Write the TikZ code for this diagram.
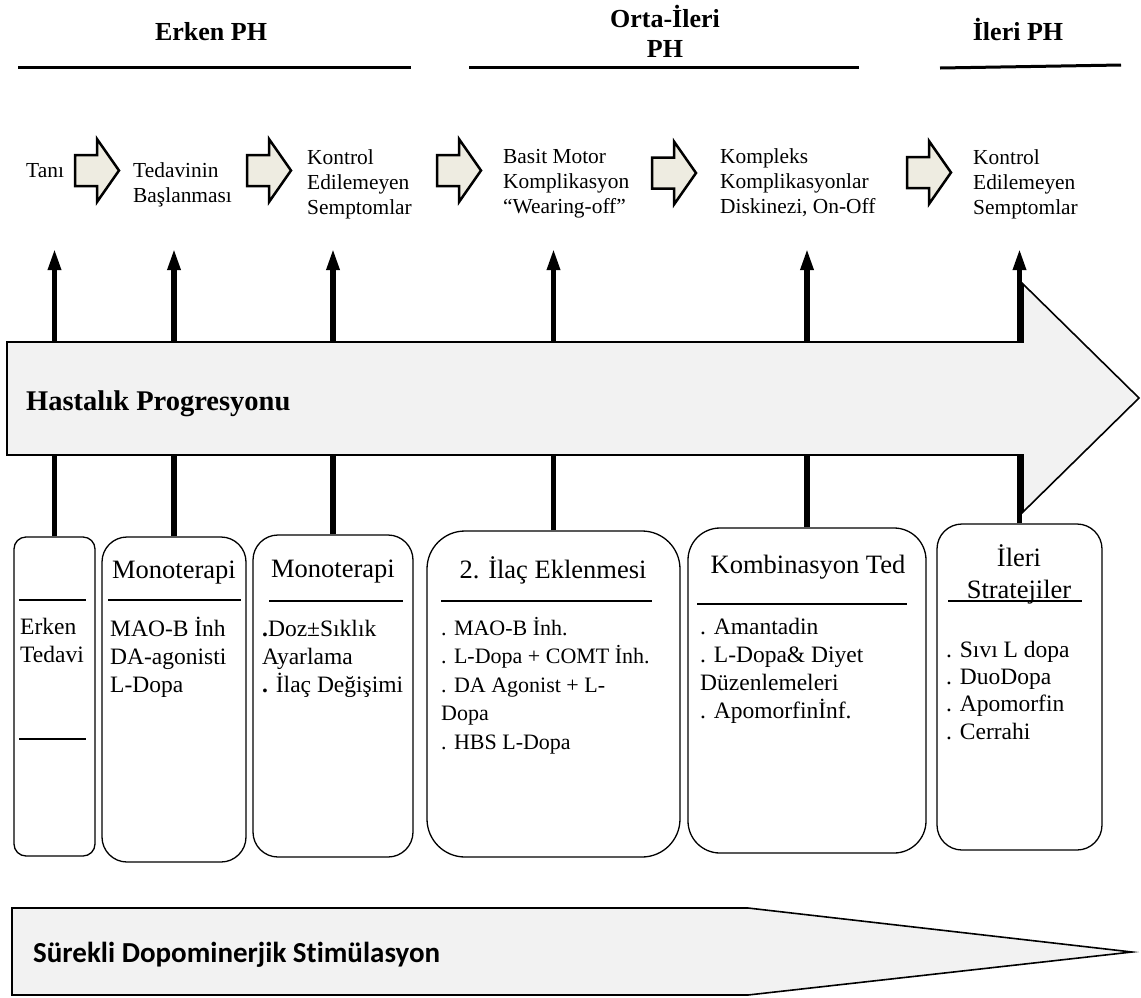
\documentclass[tikz,border=0pt]{standalone}
\usepackage{fontspec}
\setmainfont{Liberation Serif}
\newfontfamily\calibrifont{Carlito}[Ligatures=NoCommon]
\usetikzlibrary{arrows.meta}
\definecolor{chevfill}{HTML}{EEECE1}
\definecolor{bigfill}{HTML}{F2F2F2}
\tikzset{
  hdr/.style={font=\fontsize{26}{30}\selectfont\bfseries, inner sep=0},
  hdrline/.style={line width=3pt},
  chev/.style={draw=black, line width=2.5pt, fill=chevfill, line join=miter},
  chevron/.pic={\path[chev] (0,-15.5) -- (22,-15.5) -- (22,-31.5) -- (44,0) -- (22,31.5) -- (22,15.5) -- (0,15.5) -- cycle;},
  toptxt/.style={anchor=north west, align=left, inner sep=0, font=\fontsize{21.4}{25}\selectfont},
  box/.style={draw=black, line width=1.3pt, inner sep=0},
  varrow/.style={line width=5.5pt, -{Triangle[length=22pt,width=12pt]}},
  bigarrow/.style={draw=black, line width=1.6pt, fill=bigfill, line join=miter},
  title/.style={anchor=base, inner sep=0, font=\fontsize{26.5}{32}\selectfont},
  items/.style={anchor=north west, align=left, inner sep=0, font=\fontsize{23.5}{28}\selectfont},
  rule/.style={line width=2pt},
}
\begin{document}
\begin{tikzpicture}[x=1pt,y=-1pt]
\useasboundingbox (0,0) rectangle (1141,997);

% stage headers
\node[hdr, anchor=base] (h1) at (211,40.5) {Erken PH};
\node[hdr, anchor=north, align=center] (h2) at (665,5) {\strut Orta-İleri\\\strut PH};
\node[hdr, anchor=base] (h3) at (1018,40.5) {İleri PH};
\draw[hdrline] (18,67) -- (411,67);
\draw[hdrline] (469,67) -- (859,67);
\draw[hdrline] (940,68) -- (1121,65);

% top row
\node[toptxt] (s1) at (26,159.5) {\strut Tanı};
\pic at (75,170.5) {chevron};
\node[toptxt] (s2) at (133,159.5) {\strut Tedavinin\\\strut Başlanması};
\pic at (247,170.5) {chevron};
\node[toptxt] (s3) at (307,146.5) {\strut Kontrol\\\strut Edilemeyen\\\strut Semptomlar};
\pic at (437,170.5) {chevron};
\node[toptxt] (s4) at (503,145.5) {\strut Basit Motor\\\strut Komplikasyon\\\strut “Wearing-off”};
\pic at (652,173) {chevron};
\node[toptxt] (s5) at (720,145.5) {\strut Kompleks\\\strut Komplikasyonlar\\\strut Diskinezi, On-Off};
\pic at (907,172.5) {chevron};
\node[toptxt] (s6) at (973,146.5) {\strut Kontrol\\\strut Edilemeyen\\\strut Semptomlar};

% boxes
\node[box, minimum width=81, minimum height=319, rounded corners=12] (b1) at (54.5,696.5) {};
\node[box, minimum width=144, minimum height=325, rounded corners=25] (b2) at (174,699.5) {};
\node[box, minimum width=160, minimum height=322, rounded corners=25] (b3) at (333,696) {};
\node[box, minimum width=253, minimum height=326, rounded corners=38] (b4) at (553.5,694) {};
\node[box, minimum width=238, minimum height=325, rounded corners=32] (b5) at (807,690.5) {};
\node[box, minimum width=165, minimum height=326, rounded corners=25] (b6) at (1019.5,687) {};

% vertical arrows
\foreach \i in {1,...,6}{
  \coordinate (t\i) at (b\i.north |- 0,248);
  \draw[varrow] (b\i.north) -- (t\i);
}

% disease progression arrow
\path[bigarrow] (7,342) -- (1023,342) -- (1023,284) -- (1139,398) -- (1023,512) -- (1023,455) -- (7,455) -- cycle;
\node[anchor=base west, inner sep=0, font=\fontsize{28.5}{32}\selectfont\bfseries] (hp) at (26,410) {Hastalık Progresyonu};

% box 1
\draw[rule] (19,600) -- (86,600);
\draw[rule] (19,739) -- (86,739);
\node[items] (b1i) at (20,615) {\strut Erken\\\strut Tedavi};

% box 2
\node[title] (b2t) at (174,578.5) {Monoterapi};
\draw[rule] (108,600) -- (241,600);
\node[items] (b2i) at (110,617) {\strut MAO-B İnh\\\strut DA-agonisti\\\strut L-Dopa};

% box 3
\node[title] (b3t) at (333,577.5) {Monoterapi};
\draw[rule] (269,601) -- (403,601);
\node[items] (b3i) at (262,617) {\strut\textbf{.}Doz±Sıklık\\\strut Ayarlama\\\strut\textbf{.} İlaç Değişimi};

% box 4
\node[title] (b4t) at (553,578.5) {2. İlaç Eklenmesi};
\draw[rule] (441,601) -- (652,601);
\node[items, font=\fontsize{22}{28.5}\selectfont] (b4i) at (441,615.3) {\strut . MAO-B İnh.\\\strut . L-Dopa + COMT İnh.\\\strut . DA Agonist + L-\\\strut Dopa\\\strut . HBS L-Dopa};

% box 5
\node[title] (b5t) at (808,573.5) {Kombinasyon Ted};
\draw[rule] (697,604) -- (907,604);
\node[items, font=\fontsize{23.5}{27.7}\selectfont] (b5i) at (700,615) {\strut . Amantadin\\\strut . L-Dopa\& Diyet\\\strut Düzenlemeleri\\\strut . Apomorfinİnf.};

% box 6
\node[title, anchor=north, align=center] (b6t) at (1019,544.3) {\strut İleri\\\strut Stratejiler};
\draw[rule] (948,601) -- (1082,601);
\node[items, font=\fontsize{23.5}{27.3}\selectfont] (b6i) at (946,638) {\strut . Sıvı L dopa\\\strut . DuoDopa\\\strut . Apomorfin\\\strut . Cerrahi};

% continuous dopaminergic stimulation arrow
\path[bigarrow] (12,908) -- (748,908) -- (1132,952) -- (748,995) -- (12,995) -- cycle;
\node[anchor=base west, inner sep=0, font=\calibrifont\fontsize{29}{32}\selectfont\bfseries] (sd) at (33,962) {Sürekli Dopominerjik Stimülasyon};
\end{tikzpicture}
\end{document}
